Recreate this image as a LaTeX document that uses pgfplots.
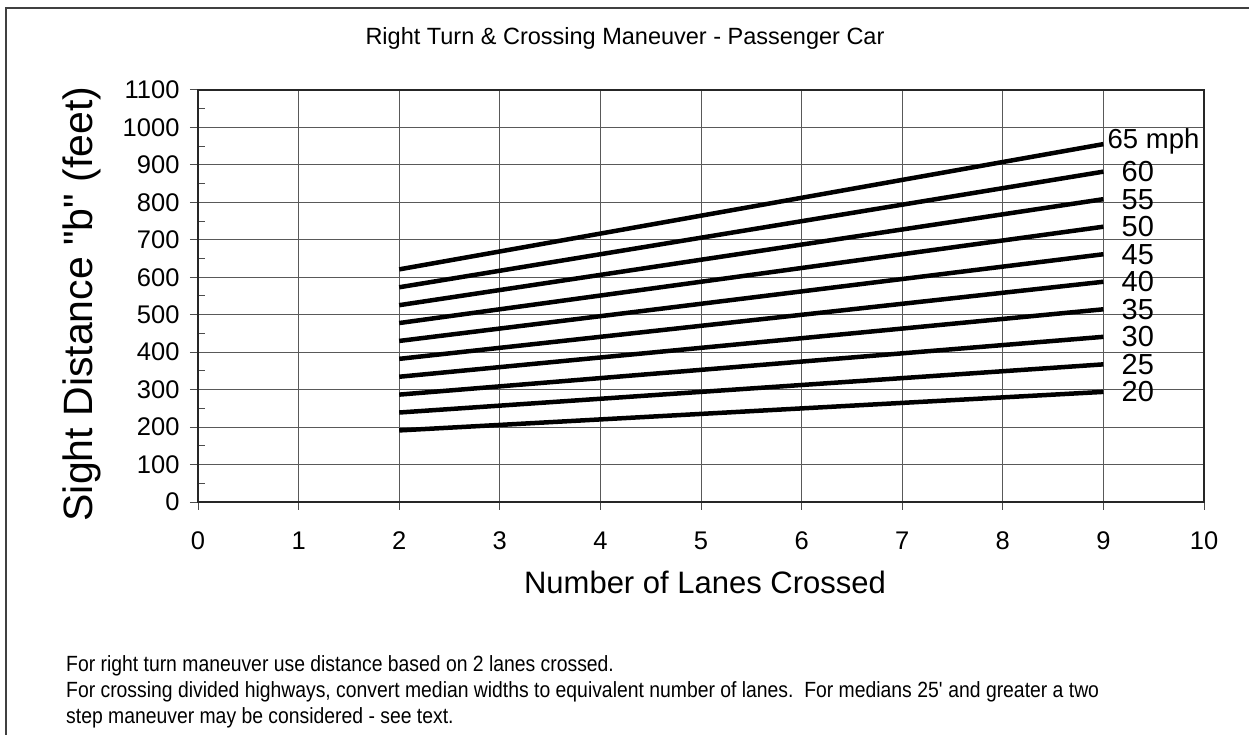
\documentclass[border=0pt]{standalone}
\usepackage{fontspec}
\setmainfont{Liberation Sans}
\newfontfamily\narrowfont[FakeStretch=0.88]{Liberation Sans}
\usepackage{pgfplots}
\pgfplotsset{compat=1.18}
\begin{document}
\begin{tikzpicture}[x=1pt,y=1pt]
\useasboundingbox (0,0) rectangle (1249,734);
\draw[line width=2pt, black!75] (6,-5) -- (6,726) -- (1260,726);
\begin{axis}[
  at={(198pt,232pt)}, anchor=south west,
  scale only axis, width=1006pt, height=412pt,
  xmin=0, xmax=10, ymin=0, ymax=1100,
  xtick={0,1,...,10}, ytick={0,100,...,1100},
  minor y tick num=1,
  tick pos=left,
  grid=major,
  major grid style={black!65, line width=1pt},
  axis line style={black!85, line width=1.5pt},
  tick align=outside,
  major tick length=8pt, minor tick length=7pt,
  tick style={black!70, line width=1pt},
  minor y tick style={xshift=7pt},
  every tick label/.append style={font=\fontsize{25.5}{30}\selectfont},
  xticklabel style={yshift=-18pt},
  yticklabel style={xshift=-7pt},
  /pgf/number format/assume math mode=true,
  /pgf/number format/1000 sep={},
  clip=false,
]
\addplot[line width=4.5pt, black] coordinates {(2,191.1) (9,294.0)} node[pos=1, anchor=west, xshift=15pt, font=\fontsize{29}{32}\selectfont, inner sep=1pt] {20};
\addplot[line width=4.5pt, black] coordinates {(2,238.9) (9,367.5)} node[pos=1, anchor=west, xshift=15pt, font=\fontsize{29}{32}\selectfont, inner sep=1pt] {25};
\addplot[line width=4.5pt, black] coordinates {(2,286.7) (9,441.0)} node[pos=1, anchor=west, xshift=15pt, font=\fontsize{29}{32}\selectfont, inner sep=1pt] {30};
\addplot[line width=4.5pt, black] coordinates {(2,334.4) (9,514.5)} node[pos=1, anchor=west, xshift=15pt, font=\fontsize{29}{32}\selectfont, inner sep=1pt] {35};
\addplot[line width=4.5pt, black] coordinates {(2,382.2) (9,588.0)} node[pos=1, anchor=west, xshift=15pt, font=\fontsize{29}{32}\selectfont, inner sep=1pt] {40};
\addplot[line width=4.5pt, black] coordinates {(2,430.0) (9,661.5)} node[pos=1, anchor=west, xshift=15pt, font=\fontsize{29}{32}\selectfont, inner sep=1pt] {45};
\addplot[line width=4.5pt, black] coordinates {(2,477.8) (9,735.0)} node[pos=1, anchor=west, xshift=15pt, font=\fontsize{29}{32}\selectfont, inner sep=1pt] {50};
\addplot[line width=4.5pt, black] coordinates {(2,525.5) (9,808.5)} node[pos=1, anchor=west, xshift=15pt, font=\fontsize{29}{32}\selectfont, inner sep=1pt] {55};
\addplot[line width=4.5pt, black] coordinates {(2,573.3) (9,882.0)} node[pos=1, anchor=west, xshift=15pt, font=\fontsize{29}{32}\selectfont, inner sep=1pt] {60};
\addplot[line width=4.5pt, black] coordinates {(2,621.1) (9,955.5)} node[pos=1, anchor=west, xshift=1pt, yshift=3pt, font=\fontsize{27.5}{32}\selectfont, inner sep=1pt] {65 mph};
\end{axis}
\node[font=\fontsize{23.5}{28}\selectfont] at (625,696) {Right Turn \& Crossing Maneuver - Passenger Car};
\node[rotate=90, font=\fontsize{41}{48}\selectfont] at (82,430) {Sight Distance \textquotedbl b\textquotedbl{} (feet)};
\node[font=\fontsize{31}{36}\selectfont] at (705,152) {Number of Lanes Crossed};
\node[anchor=base west, inner sep=0pt, font=\narrowfont\fontsize{22}{26}\selectfont] at (66,63) {For right turn maneuver use distance based on 2 lanes crossed.};
\node[anchor=base west, inner sep=0pt, font=\narrowfont\fontsize{22}{26}\selectfont] at (66,37) {For crossing divided highways, convert median widths to equivalent number of lanes.\ \ For medians 25\textquotesingle{} and greater a two};
\node[anchor=base west, inner sep=0pt, font=\narrowfont\fontsize{22}{26}\selectfont] at (66,11) {step maneuver may be considered - see text.};
\end{tikzpicture}
\end{document}
